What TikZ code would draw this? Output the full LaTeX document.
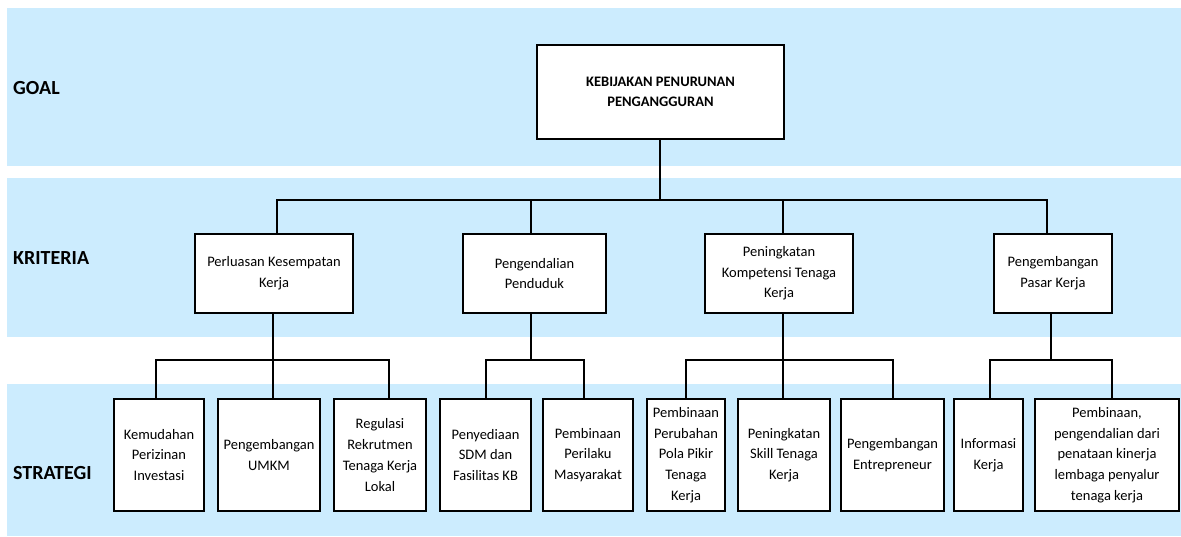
\documentclass[tikz,border=0pt]{standalone}
\usepackage{fontspec}
\setmainfont{Carlito}
\definecolor{bandblue}{RGB}{204,236,254}
\tikzset{
  band/.style={fill=bandblue, draw=none},
  lvl/.style={anchor=west, inner sep=0pt, font=\fontsize{20}{24}\selectfont\bfseries},
  goalbox/.style={draw=black, line width=1.6pt, fill=white, align=center, inner sep=0pt,
    font=\fontsize{14.5}{20}\selectfont\bfseries},
  kbox/.style={draw=black, line width=1.6pt, fill=white, align=center, inner sep=0pt,
    minimum height=79pt, font=\fontsize{14.5}{20.7}\selectfont},
  sbox/.style={draw=black, line width=1.6pt, fill=white, align=center, inner sep=0pt,
    minimum height=112pt, font=\fontsize{14.5}{20.7}\selectfont},
  conn/.style={draw=black, line width=1.2pt}
}
\begin{document}
\begin{tikzpicture}[x=1pt, y=-1pt]
\useasboundingbox (0,0) rectangle (1181,536);
% bands
\fill[band] (7,8) rectangle (1181,166);
\fill[band] (7,178) rectangle (1181,337);
\fill[band] (7,384) rectangle (1181,536);
% level labels
\node[lvl] (lgoal) at (13,88) {GOAL};
\node[lvl] (lkrit) at (13,258) {KRITERIA};
\node[lvl] (lstrat) at (13,473) {STRATEGI};
% goal
\node[goalbox, minimum width=247pt, minimum height=94pt] (goal) at (660.5,92) {KEBIJAKAN PENURUNAN\\PENGANGGURAN};
% kriteria
\node[kbox, minimum width=158pt] (k1) at (274,273.5) {Perluasan Kesempatan\\Kerja};
\node[kbox, minimum width=143pt] (k2) at (534.5,273.5) {Pengendalian\\Penduduk};
\node[kbox, minimum width=148pt] (k3) at (779,273.5) {Peningkatan\\Kompetensi Tenaga\\Kerja};
\node[kbox, minimum width=118pt] (k4) at (1053,273.5) {Pengembangan\\Pasar Kerja};
% strategi
\node[sbox, minimum width=90pt] (s1) at (159,455) {Kemudahan\\Perizinan\\Investasi};
\node[sbox, minimum width=102pt] (s2) at (269,455) {Pengembangan\\UMKM};
\node[sbox, minimum width=92pt] (s3) at (380,455) {Regulasi\\Rekrutmen\\Tenaga Kerja\\Lokal};
\node[sbox, minimum width=91pt] (s4) at (485.5,455) {Penyediaan\\SDM dan\\Fasilitas KB};
\node[sbox, minimum width=90pt] (s5) at (588,455) {Pembinaan\\Perilaku\\Masyarakat};
\node[sbox, minimum width=78pt] (s6) at (686,455) {Pembinaan\\Perubahan\\Pola Pikir\\Tenaga\\Kerja};
\node[sbox, minimum width=92pt] (s7) at (784,455) {Peningkatan\\Skill Tenaga\\Kerja};
\node[sbox, minimum width=103pt] (s8) at (892.5,455) {Pengembangan\\Entrepreneur};
\node[sbox, minimum width=69pt] (s9) at (988.5,455) {Informasi\\Kerja};
\node[sbox, minimum width=144pt] (s10) at (1107,455) {Pembinaan,\\pengendalian dari\\penataan kinerja\\lembaga penyalur\\tenaga kerja};
% junction coordinates
\coordinate (j0) at (660,200);
\coordinate (c1) at (277,200);
\coordinate (c2) at (531,200);
\coordinate (c3) at (783,200);
\coordinate (c4) at (1047,200);
\coordinate (d1) at (273,360);
\coordinate (d2) at (531,360);
\coordinate (d3) at (783,360);
\coordinate (d4) at (1051,360);
\coordinate (e1) at (156,360);
\coordinate (e3) at (389,360);
\coordinate (e4) at (486,360);
\coordinate (e5) at (584,360);
\coordinate (e6) at (686,360);
\coordinate (e8) at (893,360);
\coordinate (e9) at (990,360);
\coordinate (e10) at (1112,360);
% goal to kriteria
\draw[conn] (goal.south -| j0) -- (j0);
\draw[conn] (k1.north -| c1) -- (c1) -- (c4) -- (k4.north -| c4);
\draw[conn] (c2) -- (k2.north -| c2);
\draw[conn] (c3) -- (k3.north -| c3);
% kriteria 1
\draw[conn] (k1.south -| d1) -- (d1);
\draw[conn] (s1.north -| e1) -- (e1) -- (e3) -- (s3.north -| e3);
\draw[conn] (d1) -- (s2.north -| d1);
% kriteria 2
\draw[conn] (k2.south -| d2) -- (d2);
\draw[conn] (s4.north -| e4) -- (e4) -- (e5) -- (s5.north -| e5);
% kriteria 3
\draw[conn] (k3.south -| d3) -- (d3);
\draw[conn] (s6.north -| e6) -- (e6) -- (e8) -- (s8.north -| e8);
\draw[conn] (d3) -- (s7.north -| d3);
% kriteria 4
\draw[conn] (k4.south -| d4) -- (d4);
\draw[conn] (s9.north -| e9) -- (e9) -- (e10) -- (s10.north -| e10);
\end{tikzpicture}
\end{document}
